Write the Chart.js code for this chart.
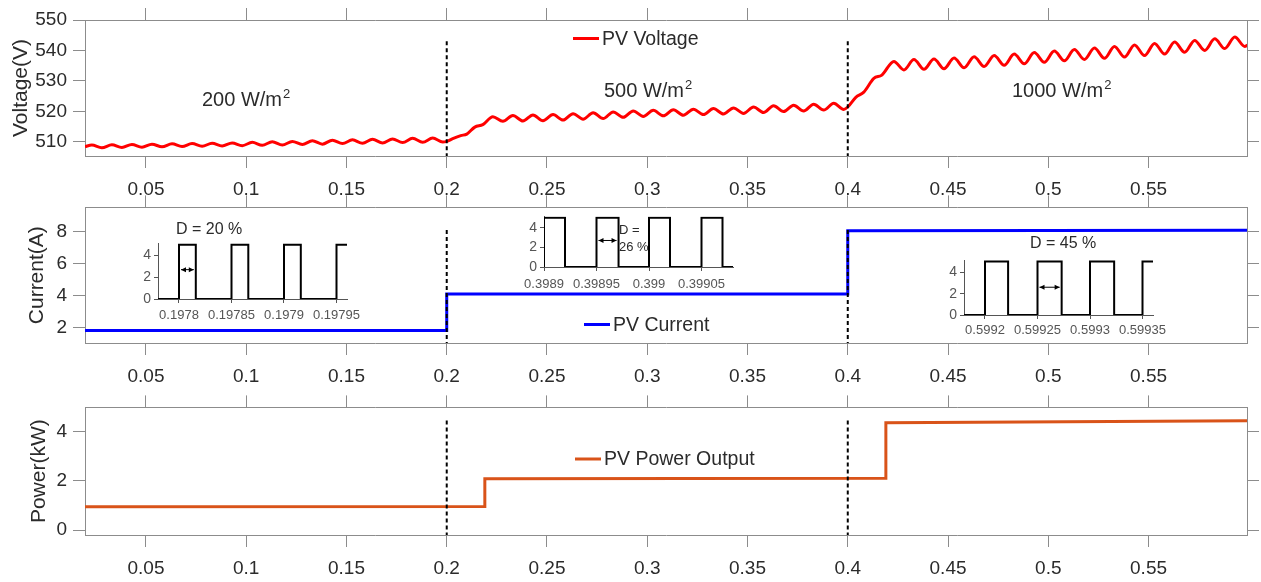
<!DOCTYPE html>
<html>
<head>
<meta charset="utf-8">
<script src="https://cdn.jsdelivr.net/npm/chart.js@4.4.1/dist/chart.umd.min.js"></script>
<style>
  body { margin: 0; background: #fff; }
  #wrap { position: relative; width: 1261px; height: 582px; overflow: hidden; }
  canvas { position: absolute; }
</style>
</head>
<body>
<div id="wrap">
  <canvas id="cv" width="1261" height="200" style="left:0;top:0"></canvas>
  <canvas id="ci" width="1261" height="198" style="left:0;top:190px"></canvas>
  <canvas id="cp" width="1261" height="192" style="left:0;top:390px"></canvas>
  <canvas id="in1" width="270" height="115" style="left:110px;top:215px"></canvas>
  <canvas id="in2" width="270" height="90" style="left:500px;top:205px"></canvas>
  <canvas id="in3" width="265" height="110" style="left:920px;top:235px"></canvas>
</div>
<script>
// time axis (s)
const xTicks = [0.05, 0.1, 0.15, 0.2, 0.25, 0.3, 0.35, 0.4, 0.45, 0.5, 0.55];
const eventTimes = [0.2, 0.4];

// PV voltage (V)
const voltTime = [
  0.0196,
  0.023, 0.028, 0.033, 0.038, 0.043, 0.048, 0.053, 0.058, 0.063, 0.068,
  0.073, 0.078, 0.083, 0.088, 0.093, 0.098, 0.103, 0.108, 0.113, 0.118,
  0.123, 0.128, 0.133, 0.138, 0.143, 0.148, 0.153, 0.158, 0.163, 0.168,
  0.173, 0.178, 0.183, 0.188, 0.193, 0.198,
  0.200, 0.203, 0.207, 0.210, 0.214, 0.218,
  0.223, 0.228, 0.233, 0.238, 0.243, 0.248, 0.253, 0.258, 0.263, 0.268,
  0.273, 0.278, 0.283, 0.288, 0.293, 0.298, 0.303, 0.308, 0.313, 0.318,
  0.323, 0.328, 0.333, 0.338, 0.343, 0.348, 0.353, 0.358, 0.363, 0.368,
  0.373, 0.378, 0.383, 0.388, 0.393, 0.398,
  0.400, 0.404, 0.408, 0.413, 0.417,
  0.423, 0.428, 0.433, 0.438, 0.443, 0.448, 0.453, 0.458, 0.463, 0.468,
  0.473, 0.478, 0.483, 0.488, 0.493, 0.498, 0.503, 0.508, 0.513, 0.518,
  0.523, 0.528, 0.533, 0.538, 0.543, 0.548, 0.553, 0.558, 0.563, 0.568,
  0.573, 0.578, 0.583, 0.588, 0.593, 0.598, 0.5995
];
const voltValue = [
  508.4,
  508.9, 508.0, 509.0, 508.1, 509.1, 508.2, 509.2, 508.3, 509.3, 508.4,
  509.4, 508.5, 509.5, 508.6, 509.6, 508.7, 509.8, 508.8, 510.0, 508.9,
  510.1, 509.1, 510.3, 509.2, 510.5, 509.4, 510.6, 509.5, 510.8, 509.6,
  510.9, 509.7, 511.1, 509.8, 511.2, 509.9,
  510.1, 511.0, 512.0, 512.5, 514.8, 515.6,
  518.2, 516.7, 518.6, 516.8, 518.8, 516.9, 518.9, 517.1, 519.2, 517.4,
  519.5, 517.6, 519.8, 518.0, 520.1, 518.3, 520.3, 518.5, 520.5, 518.7,
  520.7, 518.9, 520.9, 519.1, 521.1, 519.3, 521.4, 519.6, 521.8, 519.9,
  522.0, 520.1, 522.3, 520.4, 522.6, 520.6,
  521.4, 524.6, 526.3, 530.8, 531.9,
  536.4, 533.6, 537.0, 533.8, 537.2, 534.0, 537.5, 534.3, 537.9, 534.7,
  538.3, 535.1, 538.8, 535.6, 539.3, 536.1, 539.8, 536.6, 540.3, 537.0,
  540.8, 537.4, 541.3, 537.8, 541.8, 538.3, 542.3, 538.8, 542.8, 539.4,
  543.3, 540.0, 543.8, 540.6, 544.4, 541.3, 541.8
];

// PV current (A)
const currTime = [0.0196, 0.2, 0.2, 0.4, 0.4, 0.5991];
const currValue = [1.81, 1.81, 4.09, 4.09, 8.05, 8.08];

// PV power (kW)
const powerTime = [0.0196, 0.219, 0.219, 0.419, 0.419, 0.5991];
const powerValue = [0.94, 0.95, 2.08, 2.1, 4.35, 4.43];

// gate pulses in the insets
const pulse1Time = [0.19778, 0.1978, 0.197816, 0.19785, 0.197866, 0.1979, 0.197916, 0.19795, 0.19796];
const pulse1Value = [0, 5, 0, 5, 0, 5, 0, 5, 5];
const pulse1Ticks = [0.1978, 0.19785, 0.1979, 0.19795];

const pulse2Time = [0.3989, 0.3989, 0.39892, 0.39895, 0.398971, 0.399, 0.39902, 0.39905, 0.39907, 0.39908];
const pulse2Value = [0, 5, 0, 5, 0, 5, 0, 5, 0, 0];
const pulse2Ticks = [0.3989, 0.39895, 0.399, 0.39905];

const pulse3Time = [0.59918, 0.5992, 0.599222, 0.59925, 0.599273, 0.5993, 0.599323, 0.59935, 0.59936];
const pulse3Value = [0, 5, 0, 5, 0, 5, 0, 5, 5];
const pulse3Ticks = [0.5992, 0.59925, 0.5993, 0.59935];

const pulseYTicks = [0, 2, 4];

const FONT = '"Liberation Sans", Arial, Helvetica, sans-serif';
Chart.defaults.font.family = FONT;
const AXIS = '#8c8c8c';
const TEXT = '#2b2b2b';
const X_MIN = 0.0196, X_MAX = 0.5991;

function pts(t, v) {
    return t.map((x, i) => ({ x: x, y: v[i] }));
}

// legend drawn inside the plot area
function legendPlugin(x, y) {
    return {
        id: 'panelLegend',
        afterDatasetsDraw(chart) {
            const ds = chart.data.datasets[0];
            const ctx = chart.ctx;
            ctx.save();
            ctx.strokeStyle = ds.borderColor;
            ctx.lineWidth = 3;
            ctx.beginPath();
            ctx.moveTo(x, y);
            ctx.lineTo(x + 26, y);
            ctx.stroke();
            ctx.fillStyle = TEXT;
            ctx.font = '19.5px ' + FONT;
            ctx.textBaseline = 'middle';
            ctx.fillText(ds.label, x + 29, y + 1);
            ctx.restore();
        }
    };
}

// free text, optional superscript
function notesPlugin(items) {
    return {
        id: 'notes',
        afterDatasetsDraw(chart) {
            const ctx = chart.ctx;
            items.forEach(it => {
                ctx.save();
                ctx.fillStyle = TEXT;
                ctx.textBaseline = 'alphabetic';
                ctx.font = it.size + 'px ' + FONT;
                ctx.fillText(it.text, it.x, it.y);
                if (it.sup) {
                    const w = ctx.measureText(it.text).width;
                    ctx.font = Math.round(it.size * 0.65) + 'px ' + FONT;
                    ctx.fillText(it.sup, it.x + w + 1, it.y - it.size * 0.4);
                }
                ctx.restore();
            });
        }
    };
}

function arrowPlugin(a) {
    return {
        id: 'arrow',
        afterDatasetsDraw(chart) {
            const ctx = chart.ctx;
            const xs = chart.scales.x, ys = chart.scales.y;
            const x1 = xs.getPixelForValue(a.x1) + 2;
            const x2 = xs.getPixelForValue(a.x2) - 2;
            const y = ys.getPixelForValue(a.y);
            ctx.save();
            ctx.strokeStyle = '#000';
            ctx.fillStyle = '#000';
            ctx.lineWidth = 1;
            ctx.beginPath();
            ctx.moveTo(x1, y);
            ctx.lineTo(x2, y);
            ctx.stroke();
            ctx.beginPath();
            ctx.moveTo(x1, y); ctx.lineTo(x1 + 5, y - 2.5); ctx.lineTo(x1 + 5, y + 2.5); ctx.closePath();
            ctx.moveTo(x2, y); ctx.lineTo(x2 - 5, y - 2.5); ctx.lineTo(x2 - 5, y + 2.5); ctx.closePath();
            ctx.fill();
            ctx.restore();
        }
    };
}

function xAxis(position, height, showLabels) {
    return {
        type: 'linear', position: position, min: X_MIN, max: X_MAX,
        afterBuildTicks: s => { s.ticks = xTicks.map(v => ({ value: v })); },
        afterFit: s => { s.height = height; },
        ticks: { display: showLabels, autoSkip: false, maxRotation: 0, padding: 10,
                 color: TEXT, font: { size: 19 }, callback: v => String(v) },
        grid: { drawOnChartArea: false, drawTicks: true, tickLength: 12, color: AXIS },
        border: { display: true, color: AXIS, width: 1 }
    };
}

function yAxis(position, p, showLabels) {
    const ax = {
        type: 'linear', position: position, min: p.yMin, max: p.yMax,
        afterBuildTicks: s => { s.ticks = p.yTicks.map(v => ({ value: v })); },
        afterFit: s => { s.width = showLabels ? 85 : 14; },
        ticks: { display: showLabels, padding: 6, color: TEXT, font: { size: 19 } },
        grid: { drawOnChartArea: false, drawTicks: true, tickLength: 12, color: AXIS },
        border: { display: true, color: AXIS, width: 1 }
    };
    if (showLabels) {
        ax.title = { display: true, text: p.yTitle, color: TEXT, font: { size: 21 },
                     padding: { top: p.titlePad, bottom: 0 } };
    }
    return ax;
}

function panel(id, p) {
    const datasets = [{
        label: p.label,
        data: pts(p.time, p.value),
        borderColor: p.color,
        borderWidth: 3,
        pointRadius: 0,
        fill: false,
        tension: 0,
        cubicInterpolationMode: p.smooth ? 'monotone' : 'default',
        order: 2
    }];
    eventTimes.forEach(t => {
        datasets.push({
            label: '',
            data: pts([t, t], p.dashSpan),
            borderColor: '#000',
            borderWidth: 2,
            borderDash: [4, 3],
            pointRadius: 0,
            fill: false,
            order: 1
        });
    });
    return new Chart(document.getElementById(id), {
        type: 'line',
        data: { datasets: datasets },
        options: {
            responsive: false,
            animation: false,
            events: [],
            layout: { padding: 0 },
            plugins: { legend: { display: false }, tooltip: { enabled: false } },
            scales: {
                x: xAxis('bottom', p.bottomH, true),
                xTop: xAxis('top', p.topH, false),
                y: yAxis('left', p, true),
                yRight: yAxis('right', p, false)
            }
        },
        plugins: [legendPlugin(p.legend[0], p.legend[1]), notesPlugin(p.notes || [])]
    });
}

panel('cv', {
    label: 'PV Voltage', time: voltTime, value: voltValue, color: '#ff0000', smooth: true,
    yMin: 505.3, yMax: 550, yTicks: [510, 520, 530, 540, 550], yTitle: 'Voltage(V)', titlePad: 9,
    topH: 20, bottomH: 44, dashSpan: [543, 505.3], legend: [573, 38.5],
    notes: [
        { text: '200 W/m', sup: '2', x: 202, y: 106, size: 20 },
        { text: '500 W/m', sup: '2', x: 604, y: 96.5, size: 20 },
        { text: '1000 W/m', sup: '2', x: 1012, y: 96.5, size: 20 }
    ]
});

panel('ci', {
    label: 'PV Current', time: currTime, value: currValue, color: '#0000ff', smooth: false,
    yMin: 1.03, yMax: 9.51, yTicks: [2, 4, 6, 8], yTitle: 'Current(A)', titlePad: 25,
    topH: 17, bottomH: 45, dashSpan: [8.1, 1.03], legend: [584, 134.5]
});

panel('cp', {
    label: 'PV Power Output', time: powerTime, value: powerValue, color: '#d95319', smooth: false,
    yMin: -0.2, yMax: 4.97, yTicks: [0, 2, 4], yTitle: 'Power(kW)', titlePad: 27,
    topH: 17, bottomH: 47, dashSpan: [4.44, -0.2], legend: [575, 69]
});

function inset(id, p) {
    const axisStyle = { drawOnChartArea: false, drawTicks: true, tickLength: 4, color: '#555' };
    return new Chart(document.getElementById(id), {
        type: 'line',
        data: { datasets: [{
            data: pts(p.time, p.value),
            stepped: 'before',
            borderColor: '#000',
            borderWidth: 2,
            pointRadius: 0,
            fill: false
        }] },
        options: {
            responsive: false,
            animation: false,
            events: [],
            layout: { padding: { top: p.padTop, right: p.padRight, left: 0, bottom: 0 } },
            plugins: { legend: { display: false }, tooltip: { enabled: false } },
            scales: {
                x: {
                    type: 'linear', min: p.xMin, max: p.xMax,
                    afterBuildTicks: s => { s.ticks = p.xTicks.map(v => ({ value: v })); },
                    afterFit: s => { s.height = p.xH; },
                    ticks: { autoSkip: false, maxRotation: 0, padding: p.xPad, color: '#555',
                             font: { size: 13 }, callback: v => String(v) },
                    grid: axisStyle,
                    border: { color: '#555', width: 1 }
                },
                y: {
                    type: 'linear', min: 0, max: 5.15,
                    afterBuildTicks: s => { s.ticks = pulseYTicks.map(v => ({ value: v })); },
                    afterFit: s => { s.width = p.yW; },
                    ticks: { padding: 3, color: '#555', font: { size: 14 } },
                    grid: axisStyle,
                    border: { color: '#555', width: 1 }
                }
            }
        },
        plugins: [arrowPlugin(p.arrow), notesPlugin(p.notes)]
    });
}

inset('in1', {
    time: pulse1Time, value: pulse1Value, xTicks: pulse1Ticks, xMin: 0.19778, xMax: 0.19796,
    padTop: 28, padRight: 33, yW: 48, xH: 31, xPad: 5,
    arrow: { x1: 0.1978, x2: 0.197816, y: 2.7 },
    notes: [{ text: 'D = 20 %', x: 66, y: 19, size: 16 }]
});

inset('in2', {
    time: pulse2Time, value: pulse2Value, xTicks: pulse2Ticks, xMin: 0.3989, xMax: 0.39908,
    padTop: 8, padRight: 37, yW: 44, xH: 28, xPad: 6,
    arrow: { x1: 0.39895, x2: 0.398971, y: 2.7 },
    notes: [{ text: 'D =', x: 119, y: 29, size: 13 }, { text: '26 %', x: 119, y: 46, size: 13 }]
});

inset('in3', {
    time: pulse3Time, value: pulse3Value, xTicks: pulse3Ticks, xMin: 0.59918, xMax: 0.59936,
    padTop: 25, padRight: 32, yW: 44, xH: 30, xPad: 4,
    arrow: { x1: 0.59925, x2: 0.599273, y: 2.6 },
    notes: [{ text: 'D = 45 %', x: 110, y: 13, size: 16 }]
});
</script>
</body>
</html>
